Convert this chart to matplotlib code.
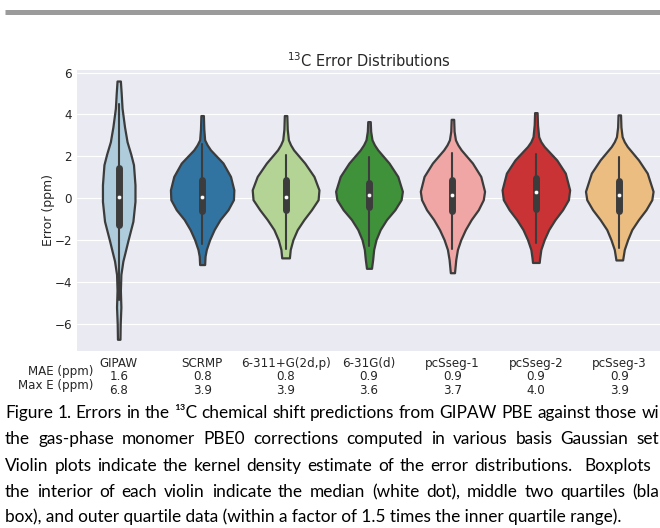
import numpy as np
import matplotlib
matplotlib.use("Agg")
import matplotlib.pyplot as plt
import seaborn as sns

# =============================================================================
# DATA
# =============================================================================

methods = ["GIPAW", "SCRMP", "6-311+G(2d,p)", "6-31G(d)", "pcSseg-1", "pcSseg-2", "pcSseg-3"]
mae = [1.6, 0.8, 0.8, 0.9, 0.9, 0.9, 0.9]
max_err = [6.8, 3.9, 3.9, 3.6, 3.7, 4.0, 3.9]

# violin outlines: error (ppm) and kde half width (category units)
gipaw_y = [5.6, 5.0, 4.3, 3.4, 2.7, 2.1, 1.6, 0.64, -0.15, -1.1, -2.06, -2.6, -3.0, -3.64, -4.4, -5.2, -6.0, -6.74]
gipaw_w = [0.02, 0.03, 0.04, 0.07, 0.10, 0.145, 0.177, 0.195, 0.195, 0.17, 0.108, 0.075, 0.05, 0.026, 0.02, 0.026, 0.018, 0.015]

scrmp_y = [3.95, 3.3, 2.79, 2.55, 2.31, 1.68, 1.04, 0.40, -0.07, -0.55, -1.02, -1.5, -1.98, -2.45, -2.77, -3.17]
scrmp_w = [0.015, 0.02, 0.03, 0.06, 0.10, 0.25, 0.34, 0.38, 0.375, 0.31, 0.215, 0.144, 0.09, 0.05, 0.035, 0.03]

g6311_y = [3.95, 3.3, 2.79, 2.55, 2.31, 1.68, 1.04, 0.40, -0.07, -0.55, -1.02, -1.5, -1.98, -2.45, -2.85]
g6311_w = [0.015, 0.02, 0.034, 0.06, 0.096, 0.23, 0.34, 0.40, 0.39, 0.31, 0.22, 0.14, 0.088, 0.056, 0.046]

g631_y = [3.66, 3.2, 2.79, 2.55, 2.31, 1.68, 1.04, 0.33, -0.07, -0.55, -1.02, -1.5, -1.98, -2.45, -2.93, -3.35]
g631_w = [0.015, 0.02, 0.036, 0.065, 0.105, 0.24, 0.345, 0.40, 0.385, 0.31, 0.21, 0.134, 0.084, 0.056, 0.044, 0.03]

pc1_y = [3.77, 3.2, 2.79, 2.55, 2.31, 1.68, 1.04, 0.33, -0.07, -0.55, -1.02, -1.5, -1.98, -2.45, -2.93, -3.56]
pc1_w = [0.015, 0.02, 0.036, 0.065, 0.105, 0.24, 0.34, 0.385, 0.37, 0.31, 0.225, 0.155, 0.10, 0.06, 0.04, 0.025]

pc2_y = [4.09, 3.5, 2.94, 2.7, 2.47, 1.83, 1.2, 0.40, -0.07, -0.55, -1.02, -1.5, -1.98, -2.45, -2.85, -3.07]
pc2_w = [0.015, 0.02, 0.034, 0.06, 0.10, 0.25, 0.353, 0.405, 0.39, 0.32, 0.23, 0.154, 0.10, 0.06, 0.046, 0.04]

pc3_y = [3.98, 3.4, 2.94, 2.7, 2.47, 1.83, 1.2, 0.33, -0.07, -0.55, -1.02, -1.5, -1.98, -2.45, -2.95]
pc3_w = [0.015, 0.02, 0.034, 0.06, 0.096, 0.23, 0.335, 0.405, 0.39, 0.32, 0.23, 0.15, 0.10, 0.06, 0.04]

violin_y = [gipaw_y, scrmp_y, g6311_y, g631_y, pc1_y, pc2_y, pc3_y]
violin_w = [gipaw_w, scrmp_w, g6311_w, g631_w, pc1_w, pc2_w, pc3_w]

# inner boxplots
q1 = [-1.26, -0.63, -0.55, -0.42, -0.63, -0.51, -0.63]
q3 = [1.44, 0.88, 0.85, 0.75, 0.85, 0.96, 0.80]
med = [0.05, 0.06, 0.04, 0.17, 0.17, 0.28, 0.15]
whis_lo = [-4.85, -2.2, -2.45, -2.3, -2.45, -2.13, -2.37]
whis_hi = [4.5, 2.6, 2.07, 1.99, 2.15, 2.12, 1.99]

# caption as it shows in the (cropped) screenshot
caption = [
    "Figure 1. Errors in the \u00b9\u00b3C chemical shift predictions from GIPAW PBE against those wi",
    "the gas-phase monomer PBE0 corrections computed in various basis Gaussian set",
    "Violin plots indicate the kernel density estimate of the error distributions.  Boxplots",
    "the interior of each violin indicate the median (white dot), middle two quartiles (bla",
    "box), and outer quartile data (within a factor of 1.5 times the inner quartile range).",
]
caption_right = [659, 659, 651, 659]

# =============================================================================
# PLOT
# =============================================================================

W, H = 660, 528
sns.set_style("darkgrid")
pal = sns.color_palette("Paired", 7, desat=0.75)
gray = "#3c3c3c"
tick_fs = 8.6
lsp = 1.05

fig = plt.figure(figsize=(W / 100, H / 100), dpi=100)
ax = fig.add_axes([77 / W, 1 - 351 / H, 584 / W, (351 - 69.5) / H])

for i in range(len(methods)):
    y = np.array(violin_y[i])
    w = np.array(violin_w[i])
    ax.fill_betweenx(y, i - w, i + w, facecolor=pal[i], edgecolor=gray, lw=1.6, zorder=2)
    ax.plot([i, i], [whis_lo[i], whis_hi[i]], color=gray, lw=1.5, zorder=3)
    ax.plot([i, i], [q1[i], q3[i]], color=gray, lw=5, zorder=3, solid_capstyle="round")
    ax.scatter(i, med[i], s=9, color="white", edgecolor=gray, lw=0.3, zorder=4)

ax.set_xlim(-0.5, len(methods) - 0.5)
ax.set_ylim(-7.3, 6.15)
ax.set_yticks([-6, -4, -2, 0, 2, 4, 6])
ax.set_xticks(range(len(methods)))
ax.set_xticklabels(["%s\n%.1f\n%.1f" % (m, a, e) for m, a, e in zip(methods, mae, max_err)])
for lbl in ax.get_xticklabels():
    lbl.set_linespacing(lsp)
ax.xaxis.grid(False)
ax.tick_params(axis="x", labelsize=tick_fs, pad=0.5, colors=".15")
ax.tick_params(axis="y", labelsize=tick_fs, pad=0, colors=".15")
for s in ax.spines.values():
    s.set_visible(False)
ax.set_ylabel("Error (ppm)", fontsize=9, color=".15", labelpad=0)
ax.set_title("$^{13}$C Error Distributions", fontsize=10.5, color=".15", pad=1.5)

ax.annotate("\nMAE (ppm)\nMax E (ppm)", xy=(0, 0), xycoords="axes fraction",
            xytext=(12, -0.5), textcoords="offset points", ha="right", va="top",
            multialignment="right", linespacing=lsp, fontsize=tick_fs, color=".15",
            annotation_clip=False)

# grey rule across the top of the page
fig.add_artist(plt.Line2D([5 / W, 1], [1 - 12 / H, 1 - 12 / H], transform=fig.transFigure,
                          color="#9b9b9b", lw=3.6, solid_capstyle="butt"))

# caption, justified like the paper text
fig.canvas.draw()
r = fig.canvas.get_renderer()

def text_width(s, size):
    t = fig.text(0, 0, s, fontsize=size, family="Lato")
    wpx = t.get_window_extent(r).width
    t.remove()
    return wpx

left = 5
cap_fs = 11.0 * 631 / text_width(caption[-1], 11.0)
for k in range(4):
    cap_fs = min(cap_fs, 11.0 * (caption_right[k] - left) / text_width(caption[k], 11.0))

baselines = [418, 444, 471, 497, 522]
for k, line in enumerate(caption):
    yb = 1 - baselines[k] / H
    if k == len(caption) - 1:
        fig.text(left / W, yb, line, fontsize=cap_fs, family="Lato", va="baseline", color="k")
        continue
    words = line.split(" ")
    widths = [text_width(wd, cap_fs) if wd else 0 for wd in words]
    gap = (caption_right[k] - left - sum(widths)) / (len(words) - 1)
    x = left
    for wd, wpx in zip(words, widths):
        if wd:
            fig.text(x / W, yb, wd, fontsize=cap_fs, family="Lato", va="baseline", color="k")
        x += wpx + gap

fig.savefig("out.png", dpi=100)
